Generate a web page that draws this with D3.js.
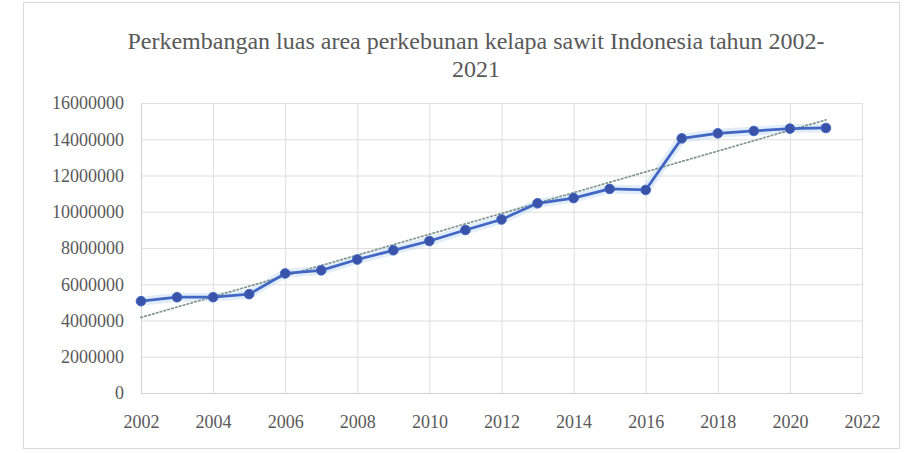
<!DOCTYPE html>
<html>
<head>
<meta charset="utf-8">
<script src="https://cdn.jsdelivr.net/npm/d3@7"></script>
<style>
  html, body { margin: 0; padding: 0; background: #fff; }
  svg { display: block; }
</style>
</head>
<body>
<svg id="chart" width="917" height="453"></svg>
<script>
// Luas areal perkebunan kelapa sawit Indonesia (hektar), 2002-2021
const years = [2002, 2003, 2004, 2005, 2006, 2007, 2008, 2009, 2010, 2011,
               2012, 2013, 2014, 2015, 2016, 2017, 2018, 2019, 2020, 2021];
const areas = [5067058, 5283557, 5284723, 5453817, 6594914, 6766836, 7363847, 7873294, 8385394, 8992824,
               9572715, 10465020, 10754801, 11260277, 11201465, 14048722, 14326350, 14456611, 14586599, 14621693];
const xTicks = [2002, 2004, 2006, 2008, 2010, 2012, 2014, 2016, 2018, 2020, 2022];
const yTicks = [0, 2000000, 4000000, 6000000, 8000000, 10000000, 12000000, 14000000, 16000000];
const titleLines = ["Perkembangan luas area perkebunan kelapa sawit Indonesia tahun 2002-", "2021"];

const svg = d3.select("#chart");
const plot = { left: 141, right: 862, top: 103, bottom: 393 };

const x = d3.scaleLinear().domain([2002, 2022]).range([plot.left, plot.right]);
const y = d3.scaleLinear().domain([0, 16000000]).range([plot.bottom, plot.top]);

const serif = "'Liberation Serif', 'Times New Roman', serif";
const textColor = "#595959";

// chart frame
svg.append("rect")
  .attr("x", 23.5).attr("y", 2.5).attr("width", 876).attr("height", 446)
  .attr("fill", "#fff").attr("stroke", "#d9d9d9").attr("stroke-width", 1);

// title
const title = svg.append("text")
  .attr("x", 476).attr("y", 49)
  .attr("text-anchor", "middle")
  .attr("font-family", serif).attr("font-size", 24).attr("fill", textColor);
titleLines.forEach((t, i) => {
  title.append("tspan").attr("x", 476).attr("dy", i === 0 ? 0 : 28).text(t);
});

// horizontal gridlines
svg.append("g").selectAll("line").data(yTicks.filter(d => d > 0)).join("line")
  .attr("x1", plot.left).attr("x2", plot.right)
  .attr("y1", d => y(d) + 0.5).attr("y2", d => y(d) + 0.5)
  .attr("stroke", "#dedede").attr("stroke-width", 1);

// vertical gridlines
svg.append("g").selectAll("line").data(xTicks.filter(d => d > 2002)).join("line")
  .attr("x1", d => x(d) + 0.5).attr("x2", d => x(d) + 0.5)
  .attr("y1", plot.top).attr("y2", plot.bottom)
  .attr("stroke", "#dedede").attr("stroke-width", 1);

// axes
const yAxis = d3.axisLeft(y).tickValues(yTicks).tickSize(0).tickPadding(17)
  .tickFormat(d3.format("d"));
const gy = svg.append("g").attr("transform", `translate(${plot.left},0)`).call(yAxis);
gy.select(".domain").attr("stroke", "#d0d0d0");
gy.selectAll("text").attr("font-family", serif).attr("font-size", 18).attr("fill", textColor);

const xAxis = d3.axisBottom(x).tickValues(xTicks).tickSize(0).tickPadding(22)
  .tickFormat(d3.format("d"));
const gx = svg.append("g").attr("transform", `translate(0,${plot.bottom})`).call(xAxis);
gx.select(".domain").attr("stroke", "#d0d0d0");
gx.selectAll("text").attr("font-family", serif).attr("font-size", 18).attr("fill", textColor);

const data = years.map((yr, i) => ({ year: yr, value: areas[i] }));

// linear trendline (least squares) over the data years
const mx = d3.mean(years), my = d3.mean(areas);
const slope = d3.sum(data, d => (d.year - mx) * (d.value - my)) / d3.sum(years, v => (v - mx) ** 2);
const intercept = my - slope * mx;
const trend = [years[0], years[years.length - 1]].map(v => ({ year: v, value: intercept + slope * v }));

const line = d3.line().x(d => x(d.year)).y(d => y(d.value));

// soft halo under the series line
svg.append("path").datum(data)
  .attr("d", line).attr("fill", "none")
  .attr("stroke", "#bcd9f5").attr("stroke-width", 9).attr("stroke-opacity", 0.45)
  .attr("stroke-linejoin", "round").attr("stroke-linecap", "round");

svg.append("path").datum(trend)
  .attr("d", line).attr("fill", "none")
  .attr("stroke", "#83978f").attr("stroke-width", 1.75)
  .attr("stroke-dasharray", "1.5 2.5").attr("stroke-linecap", "round");

svg.append("path").datum(data)
  .attr("d", line).attr("fill", "none")
  .attr("stroke", "#4266c4").attr("stroke-width", 2.75)
  .attr("stroke-linejoin", "round");

svg.append("g").selectAll("circle").data(data).join("circle")
  .attr("cx", d => x(d.year)).attr("cy", d => y(d.value)).attr("r", 4.8)
  .attr("fill", "#3a52a8").attr("stroke", "#4266c4").attr("stroke-width", 1);
</script>
</body>
</html>
